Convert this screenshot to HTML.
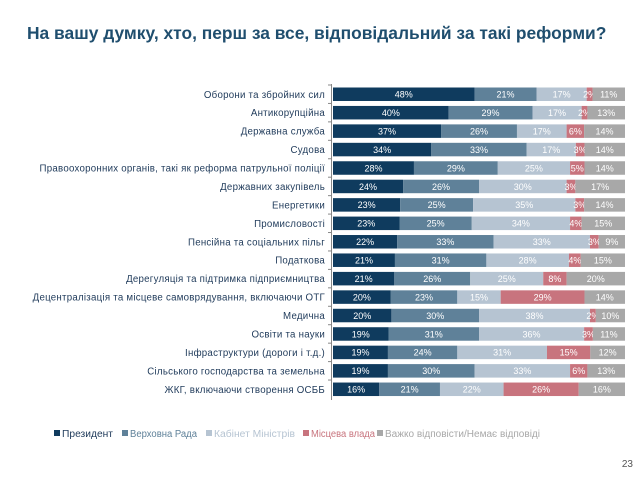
<!DOCTYPE html>
<html><head><meta charset="utf-8">
<style>
body{margin:0;background:#fff;width:638px;height:479px;overflow:hidden;font-family:"Liberation Sans","DejaVu Sans",sans-serif;}
svg{display:block}
</style></head>
<body>
<svg id="chart" width="638" height="479">
<text x="27" y="39" font-size="17.4" font-weight="bold" fill="#1f4e6e">На вашу думку, хто, перш за все, відповідальний за такі реформи?</text>
<g id="bars"></g>
<g id="legend"></g>
<text x="633" y="467" font-size="10" fill="#555" text-anchor="end">23</text>
</svg>
<script>
const categories=["Оборони та збройних сил","Антикорупційна","Державна служба","Судова","Правоохоронних органів, такі як реформа патрульної поліції","Державних закупівель","Енергетики","Промисловості","Пенсійна та соціальних пільг","Податкова","Дерегуляція та підтримка підприємництва","Децентралізація та місцеве самоврядування, включаючи ОТГ","Медична","Освіти та науки","Інфраструктури (дороги і т.д.)","Сільського господарства та земельна","ЖКГ, включаючи створення ОСББ"];
const seriesNames=["Президент","Верховна Рада","Кабінет Міністрів","Місцева влада","Важко відповісти/Немає відповіді"];
const president=[48,40,37,34,28,24,23,23,22,21,21,20,20,19,19,19,16];
const rada=[21,29,26,33,29,26,25,25,33,31,26,23,30,31,24,30,21];
const cabinet=[17,17,17,17,25,30,35,34,33,28,25,15,38,36,31,33,22];
const local=[2,2,6,3,5,3,3,4,3,4,8,29,2,3,15,6,26];
const hard=[11,13,14,14,14,17,14,15,9,15,20,14,10,11,12,13,16];
const series=[president,rada,cabinet,local,hard];
const colors=["#0f3b5e","#5f8199","#b6c4d2","#c8747e","#a8a8a8"];
const NS="http://www.w3.org/2000/svg";
const X0=333,W=292,Y0=87.5,STEP=18.44,BH=13.5;
const xs=v=>v/100*W;
const yRow=i=>Y0+i*STEP;
const g=document.getElementById('bars');
const ax=document.createElementNS(NS,'line');
ax.setAttribute('x1',331.5);ax.setAttribute('x2',331.5);ax.setAttribute('y1',84);ax.setAttribute('y2',400);ax.setAttribute('stroke','#888');


g.appendChild(ax);
categories.forEach((c,i)=>{
 const y=yRow(i);
 const t=document.createElementNS(NS,'text');
 t.setAttribute('x',325);t.setAttribute('y',y+BH/2+3.5);t.setAttribute('text-anchor','end');
 t.setAttribute('font-size','9.7');t.setAttribute('letter-spacing','0.25');t.setAttribute('fill','#1f3a5a');
 t.textContent=c;
 
 
 g.appendChild(t);
 const tk=document.createElementNS(NS,'line');
 tk.setAttribute('x1',328);tk.setAttribute('x2',331.5);tk.setAttribute('y1',y-2.5);tk.setAttribute('y2',y-2.5);tk.setAttribute('stroke','#888');
 
 
 g.appendChild(tk);
 let tot=0;series.forEach(s=>tot+=s[i]);
 let acc=0;
 series.forEach((s,k)=>{
  const v=s[i]/tot*100;
  const r=document.createElementNS(NS,'rect');
  r.setAttribute('x',X0+xs(acc));r.setAttribute('y',y);r.setAttribute('width',xs(v));r.setAttribute('height',BH);r.setAttribute('fill',colors[k]);
  
  
  g.appendChild(r);
  const l=document.createElementNS(NS,'text');
  l.setAttribute('x',X0+xs(acc+v/2));l.setAttribute('y',y+BH/2+3.3);l.setAttribute('text-anchor','middle');
  l.setAttribute('font-size','9');l.setAttribute('fill','#fff');
  l.textContent=s[i]+'%';
  
  
  g.appendChild(l);
  acc+=v;
 });
});
const lg=document.getElementById('legend');
const lx=[54,122,206,303,377];
const lw=[51,67,81,64,155];
seriesNames.forEach((n,k)=>{
 const r=document.createElementNS(NS,'rect');
 r.setAttribute('x',lx[k]);r.setAttribute('y',430);r.setAttribute('width',6);r.setAttribute('height',6);r.setAttribute('fill',colors[k]);
 
 
 lg.appendChild(r);
 const t=document.createElementNS(NS,'text');
 t.setAttribute('x',lx[k]+8);t.setAttribute('y',437);t.setAttribute('font-size','10');t.setAttribute('fill',k==0?'#1f3a5a':colors[k]);
 t.setAttribute('textLength',lw[k]);t.setAttribute('lengthAdjust','spacingAndGlyphs');
 t.textContent=n;
 
 
 lg.appendChild(t);
});
</script>
</body></html>
